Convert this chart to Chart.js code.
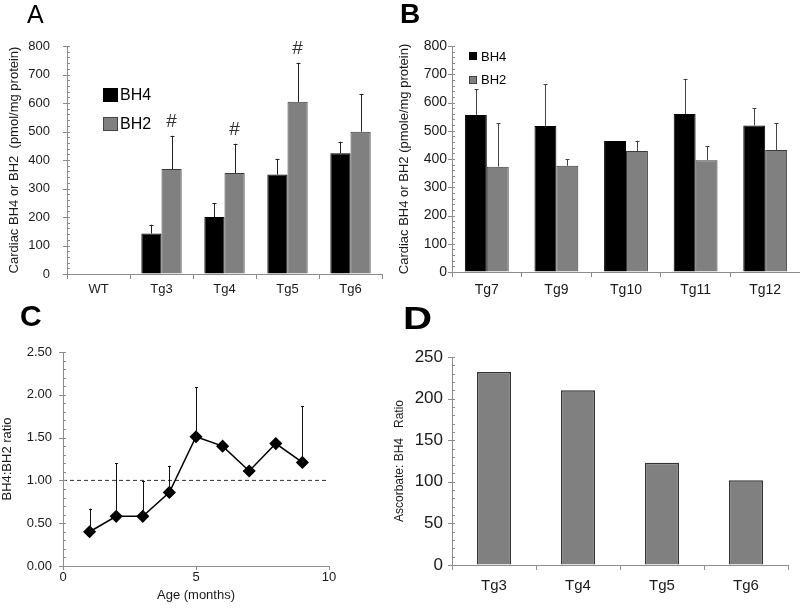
<!DOCTYPE html>
<html>
<head>
<meta charset="utf-8">
<title>BH4 / BH2 panels</title>
<script src="https://cdn.jsdelivr.net/npm/chart.js@4.4.0/dist/chart.umd.min.js"></script>
<style>
  html, body { margin: 0; padding: 0; background: #fff; }
  #fig { position: relative; width: 800px; height: 614px; overflow: hidden;
         font-family: "Liberation Sans", Arial, sans-serif; color: #000; }
  #fig canvas { position: absolute; }
  .letter { position: absolute; line-height: 1; white-space: nowrap; }
  .key { position: absolute; line-height: 1; white-space: nowrap; }
  .box { position: absolute; box-sizing: border-box; }
</style>
</head>
<body>
<div id="fig">
  <canvas id="cA" width="400" height="300" style="left:0;top:0"></canvas>
  <canvas id="cB" width="404" height="300" style="left:396px;top:0"></canvas>
  <canvas id="cC" width="400" height="314" style="left:0;top:300px"></canvas>
  <canvas id="cD" width="410" height="314" style="left:390px;top:300px"></canvas>

  <div class="letter" style="left:27px;top:2px;font-size:25px">A</div>
  <div class="letter" style="left:400px;top:0px;font-size:28px;font-weight:bold">B</div>
  <div class="letter" style="left:20px;top:301px;font-size:30px;font-weight:bold">C</div>
  <div class="letter" style="left:403px;top:303px;font-size:31px;font-weight:bold;transform:scaleX(1.3);transform-origin:left top">D</div>

  <!-- legend, panel A -->
  <div class="box" style="left:103px;top:88px;width:15px;height:14px;background:#000"></div>
  <div class="key" style="left:120px;top:87px;font-size:16px">BH4</div>
  <div class="box" style="left:103px;top:117px;width:15px;height:14px;background:#808080;border:1px solid #444"></div>
  <div class="key" style="left:120px;top:116px;font-size:16px">BH2</div>

  <!-- legend, panel B -->
  <div class="box" style="left:469px;top:52px;width:8px;height:8px;background:#000"></div>
  <div class="key" style="left:481px;top:50px;font-size:13px">BH4</div>
  <div class="box" style="left:469px;top:76px;width:8px;height:8px;background:#808080;border:1px solid #444"></div>
  <div class="key" style="left:481px;top:73px;font-size:13px">BH2</div>
</div>

<script>
// ---- data ----
// panel A: cardiac BH4 / BH2 (pmol/mg protein), mean and SD
const catsA = ['WT', 'Tg3', 'Tg4', 'Tg5', 'Tg6'];
const bh4A = [2, 142, 200, 349, 424];
const bh4SdA = [0, 31, 49, 55, 40];
const bh2A = [2, 368, 354, 604, 499];
const bh2SdA = [0, 117, 103, 137, 132];
const hashA = [false, true, true, true, false];   // '#' over BH2 bar

// panel B
const catsB = ['Tg7', 'Tg9', 'Tg10', 'Tg11', 'Tg12'];
const bh4B = [556, 517, 464, 559, 519];
const bh4SdB = [91, 147, 0, 125, 61];
const bh2B = [373, 376, 428, 396, 432];
const bh2SdB = [153, 23, 37, 50, 94];

// panel C: BH4:BH2 ratio by age
const ageMonths = [1, 2, 3, 4, 5, 6, 7, 8, 9];
const ratioC = [0.40, 0.58, 0.58, 0.86, 1.51, 1.40, 1.11, 1.43, 1.21];
const ratioSdC = [0.27, 0.62, 0.41, 0.31, 0.58, 0, 0, 0, 0.66];
const refLine = 1.0;

// panel D: ascorbate : BH4 ratio
const catsD = ['Tg3', 'Tg4', 'Tg5', 'Tg6'];
const ascRatioD = [232, 210, 123, 102];

// ---- setup ----
Chart.defaults.font.family = '"Liberation Sans", Arial, sans-serif';
Chart.defaults.color = '#1a1a1a';
Chart.defaults.plugins.legend.display = false;
Chart.defaults.plugins.tooltip.enabled = false;

const AXIS = '#8c8c8c';

// minor / major tick marks on the y axis
const minorTicks = {
  id: 'minorTicks',
  afterDraw(chart, args, opts) {
    if (!opts.step) return;
    const y = chart.scales.y, ctx = chart.ctx, x0 = chart.chartArea.left;
    const n = Math.round((y.max - y.min) / opts.step);
    ctx.save();
    ctx.strokeStyle = AXIS;
    ctx.lineWidth = 1;
    for (let k = 0; k <= n; k++) {
      const py = Math.round(y.getPixelForValue(y.min + k * opts.step)) + 0.5;
      const major = k % opts.every === 0;
      ctx.beginPath();
      ctx.moveTo(major ? x0 - 4 : x0, py);
      ctx.lineTo(x0 + 3, py);
      ctx.stroke();
    }
    ctx.restore();
  }
};

// upper error bars, plus optional '#' marks
const errorBars = {
  id: 'errorBars',
  afterDatasetsDraw(chart, args, opts) {
    const ctx = chart.ctx, ys = chart.scales.y;
    chart.data.datasets.forEach((ds, i) => {
      if (!ds.sd) return;
      const meta = chart.getDatasetMeta(i);
      meta.data.forEach((el, j) => {
        const sd = ds.sd[j];
        const d = ds.data[j];
        const v = typeof d === 'number' ? d : d.y;
        const top = ys.getPixelForValue(v + sd);
        const x = Math.round(el.x) + 0.5;
        ctx.save();
        if (sd) {
          ctx.strokeStyle = opts.color || '#222';
          ctx.lineWidth = 1;
          ctx.beginPath();
          ctx.moveTo(x, el.y);
          ctx.lineTo(x, top);
          ctx.moveTo(x - opts.cap, Math.round(top) + 0.5);
          ctx.lineTo(x + opts.cap, Math.round(top) + 0.5);
          ctx.stroke();
        }
        if (ds.hash && ds.hash[j]) {
          ctx.fillStyle = '#333';
          ctx.font = '19px "Liberation Sans", Arial, sans-serif';
          ctx.textAlign = 'center';
          ctx.textBaseline = 'middle';
          ctx.fillText('#', el.x, top - 14);
        }
        ctx.restore();
      });
    });
  }
};

Chart.register(minorTicks, errorBars);

function yAxis(min, max, step, size, pad, width, title, tsize, tpad, fmt) {
  return {
    min: min, max: max,
    grid: { drawOnChartArea: false, drawTicks: false },
    border: { color: AXIS },
    ticks: { stepSize: step, padding: pad, font: { size: size }, callback: fmt || (v => v) },
    title: { display: true, text: title, font: { size: tsize }, padding: { top: tpad, bottom: 0 } },
    afterFit: s => { s.width = width; }
  };
}

function xCat(size, pad, height) {
  return {
    grid: { offset: true, drawOnChartArea: false, tickLength: 5, color: AXIS },
    border: { color: AXIS },
    ticks: { padding: pad, font: { size: size } },
    afterFit: s => { s.height = height; }
  };
}

// ---- A ----
new Chart(document.getElementById('cA'), {
  type: 'bar',
  data: {
    labels: catsA,
    datasets: [
      { data: bh4A, sd: bh4SdA, backgroundColor: '#000', borderColor: '#000', borderWidth: 1 },
      { data: bh2A, sd: bh2SdA, hash: hashA, backgroundColor: '#808080', borderColor: '#3c3c3c', borderWidth: 1 }
    ]
  },
  options: {
    responsive: false, animation: false, devicePixelRatio: 1,
    layout: { padding: { left: 0, top: 46, right: 18, bottom: 0 } },
    datasets: { bar: { categoryPercentage: 0.64, barPercentage: 1 } },
    plugins: { minorTicks: { step: 20, every: 5 }, errorBars: { color: '#222', cap: 2 } },
    scales: {
      x: xCat(13, 3, 26),
      y: yAxis(0, 800, 100, 13, 17, 67, 'Cardiac BH4 or BH2  (pmol/mg protein)', 13, 7)
    }
  }
});

// ---- B ----
new Chart(document.getElementById('cB'), {
  type: 'bar',
  data: {
    labels: catsB,
    datasets: [
      { data: bh4B, sd: bh4SdB, backgroundColor: '#000', borderColor: '#000', borderWidth: 1 },
      { data: bh2B, sd: bh2SdB, backgroundColor: '#808080', borderColor: '#3c3c3c', borderWidth: 1 }
    ]
  },
  options: {
    responsive: false, animation: false, devicePixelRatio: 1,
    layout: { padding: { left: 0, top: 46, right: 0, bottom: 0 } },
    datasets: { bar: { categoryPercentage: 0.63, barPercentage: 1 } },
    plugins: { minorTicks: { step: 20, every: 5 }, errorBars: { color: '#444', cap: 2 } },
    scales: {
      x: xCat(14, 5, 28),
      y: yAxis(0, 800, 100, 14, 5, 56, 'Cardiac BH4 or BH2 (pmole/mg protein)', 13, 1)
    }
  }
});

// ---- C ----
new Chart(document.getElementById('cC'), {
  type: 'line',
  data: {
    datasets: [
      {
        data: ageMonths.map((a, i) => ({ x: a, y: ratioC[i] })),
        sd: ratioSdC,
        borderColor: '#000', borderWidth: 1.5, tension: 0,
        pointStyle: 'rectRot', pointRadius: 5.5,
        pointBackgroundColor: '#000', pointBorderColor: '#000'
      },
      {
        data: [{ x: 0, y: refLine }, { x: 10, y: refLine }],
        borderColor: '#333', borderWidth: 1, borderDash: [4, 3], pointRadius: 0
      }
    ]
  },
  options: {
    responsive: false, animation: false, devicePixelRatio: 1,
    layout: { padding: { left: 0, top: 52, right: 71, bottom: 0 } },
    plugins: { minorTicks: { step: 0.1, every: 5 }, errorBars: { color: '#111', cap: 1.5 } },
    scales: {
      x: {
        type: 'linear', min: 0, max: 10,
        grid: { drawOnChartArea: false, tickLength: 4, color: AXIS },
        border: { color: AXIS },
        ticks: { stepSize: 5, padding: 0, font: { size: 13 } },
        title: { display: true, text: 'Age (months)', font: { size: 13 }, padding: { top: 0, bottom: 11 } },
        afterFit: s => { s.height = 48; }
      },
      y: yAxis(0, 2.5, 0.5, 13, 11, 63, 'BH4:BH2 ratio', 13, 0, v => v.toFixed(2))
    }
  }
});

// ---- D ----
new Chart(document.getElementById('cD'), {
  type: 'bar',
  data: {
    labels: catsD,
    datasets: [
      { data: ascRatioD, backgroundColor: '#808080', borderColor: '#333', borderWidth: 1.5 }
    ]
  },
  options: {
    responsive: false, animation: false, devicePixelRatio: 1,
    layout: { padding: { left: 0, top: 57, right: 12, bottom: 0 } },
    datasets: { bar: { categoryPercentage: 1, barPercentage: 0.405 } },
    plugins: { minorTicks: { step: 10, every: 5 } },
    scales: {
      x: xCat(15, 7, 49),
      y: yAxis(0, 250, 50, 17, 9, 62, 'Ascorbate: BH4   Ratio', 12, 2)
    }
  }
});
</script>
</body>
</html>
